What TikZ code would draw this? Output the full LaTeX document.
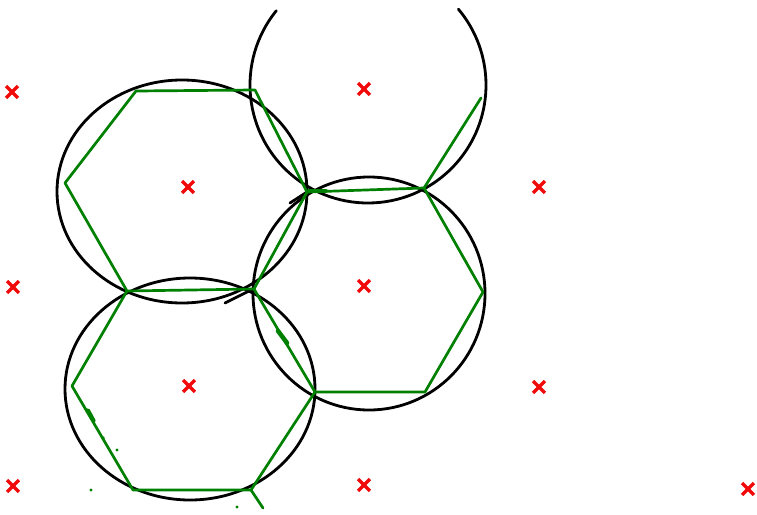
\documentclass[tikz,border=0pt]{standalone}
\usepackage{tikz}
\usetikzlibrary{shapes.misc}
\definecolor{penred}{RGB}{240, 10, 10}
\definecolor{pengreen}{RGB}{0, 128, 0}

\begin{document}
\begin{tikzpicture}[x=1pt, y=-1pt,
    latt/.style={cross out, draw=penred, line width=3.3pt, minimum size=8.5pt, inner sep=0pt},
    hexe/.style={pengreen, line width=2.7pt, line cap=round, line join=round},
    ring/.style={black, line width=2.8pt, line cap=round}]

  \useasboundingbox (0,0) rectangle (757,514);

  % ── Lattice points ────────────────────────────────────────────────────────
  \node[latt] (x1)  at (12, 92)  {};
  \node[latt] (x2)  at (364, 89) {};
  \node[latt] (x3)  at (188, 187) {};
  \node[latt] (x4)  at (539, 187) {};
  \node[latt] (x5)  at (13, 287) {};
  \node[latt] (x6)  at (364, 286) {};
  \node[latt] (x7)  at (189, 386) {};
  \node[latt] (x8)  at (539, 387) {};
  \node[latt] (x9)  at (13, 486) {};
  \node[latt] (x10) at (364, 485) {};
  \node[latt] (x11) at (748, 489) {};

  % ── Circles (hand drawn) ─────────────────────────────────────────────────
  \draw[ring] (182, 191.5) ellipse [x radius=125, y radius=111.5];
  \draw[ring] (369, 293.5) ellipse [x radius=116, y radius=116.5];
  \draw[ring] (190, 389) ellipse [x radius=125, y radius=111];
  % top one, left open at the page edge
  \draw[ring] (368, 85) ++(219:118) arc[start angle=219, end angle=-40, radius=118];
  % pen strokes at the crossings
  \draw[ring] (225, 303) -- (253, 289);
  \draw[ring] (290, 203) -- (307, 192);

  % ── Hexagon corners ──────────────────────────────────────────────────────
  \coordinate (hA) at (136, 91);
  \coordinate (hB) at (255, 90);
  \coordinate (hC) at (307, 192);
  \coordinate (hD) at (254, 289);
  \coordinate (hE) at (127, 291);
  \coordinate (hF) at (65, 183);
  \coordinate (hG) at (424, 188);
  \coordinate (hH) at (483, 292);
  \coordinate (hI) at (425, 392);
  \coordinate (hJ) at (315, 392);
  \coordinate (hK) at (251, 490);
  \coordinate (hL) at (133, 490);
  \coordinate (hM) at (72, 386);
  \coordinate (hN) at (481, 98);
  \coordinate (hO) at (263, 508);

  % ── Hexagons ─────────────────────────────────────────────────────────────
  \draw[hexe] (hA) -- (hB) -- (hC) -- (hD) -- (hE) -- (hF) -- cycle;
  \draw[hexe] (hC) -- (hG) -- (hH) -- (hI) -- (hJ) -- (hD);
  \draw[hexe] (hE) -- (hM) -- (hL) -- (hK) -- (hJ);
  \draw[hexe] (hK) -- (hO);
  \draw[hexe] (hG) -- (hN);

  % ── Stray green marks ────────────────────────────────────────────────────
  \draw[pengreen, line width=4.5pt, line cap=round] (278, 331) -- (287, 343);
  \draw[pengreen, line width=3.6pt, line cap=round] (88, 410) -- (94, 421);
  \draw[pengreen, line width=3.6pt, line cap=round] (309, 191) -- (326, 191);
  \fill[pengreen] (91, 490) circle (1.7);
  \fill[pengreen] (237, 507) circle (1.7);
  \fill[pengreen] (117, 450) circle (1.7);
  \fill[pengreen] (103, 438) circle (1.8);

\end{tikzpicture}
\end{document}
